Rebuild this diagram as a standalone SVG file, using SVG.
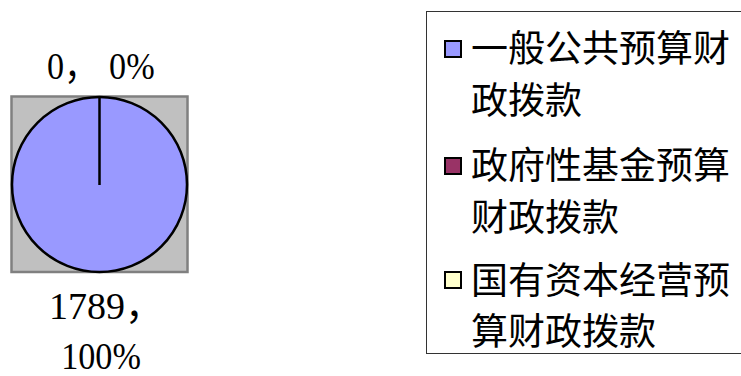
<svg xmlns="http://www.w3.org/2000/svg" width="741" height="376" viewBox="0 0 741 376">
<style>
.lbl{font-family:"Liberation Serif","Noto Sans CJK SC",serif;font-size:38px;fill:#000}
.leg{font-family:"Noto Sans CJK SC","Noto Sans CJK JP",sans-serif;font-size:37px;fill:#000}
.mk{stroke:#000;stroke-width:2}
</style>
<rect width="741" height="376" fill="#fff"/>
<g id="plot-area">
<rect x="11.5" y="96.5" width="176" height="175.5" fill="#c0c0c0" stroke="#808080" stroke-width="2.5"/>
</g>
<g id="pie">
<circle cx="99.5" cy="184.5" r="87.5" fill="#9999ff" stroke="#000" stroke-width="2.5"/>
<line x1="99.5" y1="97" x2="99.5" y2="185" stroke="#000" stroke-width="2.5"/>
</g>
<g id="label-zero">
<text class="lbl" transform="translate(47,79) scale(0.9,1)"><tspan x="0">0，</tspan><tspan x="69">0%</tspan></text>
</g>
<g id="label-main">
<text class="lbl" x="49" y="319">1789，</text>
<text class="lbl" transform="translate(101,369) scale(0.9,1)" text-anchor="middle">100%</text>
</g>
<g id="legend">
<rect x="426.5" y="11.5" width="330" height="342" fill="#fff" stroke="#333" stroke-width="1"/>
<g id="legend-1">
<rect class="mk" x="445" y="41" width="16" height="16" fill="#9999ff"/>
<text class="leg" x="471" y="62">一般公共预算财</text>
<text class="leg" x="471" y="114">政拨款</text>
</g>
<g id="legend-2">
<rect class="mk" x="445" y="158" width="16" height="16" fill="#993366"/>
<text class="leg" x="471" y="179">政府性基金预算</text>
<text class="leg" x="471" y="231">财政拨款</text>
</g>
<g id="legend-3">
<rect class="mk" x="445" y="272" width="16" height="16" fill="#ffffcc"/>
<text class="leg" x="471" y="294">国有资本经营预</text>
<text class="leg" x="471" y="345">算财政拨款</text>
</g>
</g>
</svg>
